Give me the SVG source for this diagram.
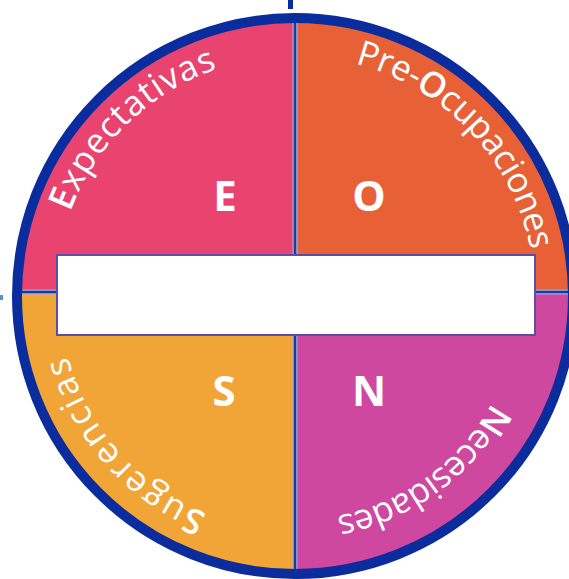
<svg xmlns="http://www.w3.org/2000/svg" width="569" height="579" viewBox="0 0 569 579">
<style>
.arc{font-family:"Open Sans","DejaVu Sans",sans-serif;font-size:35px;fill:#fff}
.b{font-weight:600}
.big{font-family:"Open Sans","DejaVu Sans",sans-serif;font-size:42px;font-weight:bold;fill:#fff;text-anchor:middle}
</style>
<defs>
<clipPath id="cc"><circle cx="295" cy="296" r="280"/></clipPath>
<path id="pE" d="M70.2,212 A240,240 0 0 1 253.3,59.6"/>
<path id="pO" d="M355.1,63.7 A240,240 0 0 1 534.1,275.1"/>
<path id="pS" d="M207,513.9 A235,235 0 0 1 60.9,316.5"/>
<path id="pN" d="M491.9,402.9 A224,224 0 0 1 295,520"/>
</defs>
<rect x="288" y="0" width="5" height="9" fill="#0B2C9C"/>
<rect x="0" y="295" width="3" height="5" fill="#5B8FD0"/>
<g clip-path="url(#cc)">
<g id="quadE"><rect x="0" y="0" width="295" height="292" fill="#E8446F"/></g>
<g id="quadO"><rect x="295" y="0" width="300" height="292" fill="#E86035"/></g>
<g id="quadS"><rect x="0" y="292" width="295" height="300" fill="#F2A537"/></g>
<g id="quadN"><rect x="295" y="292" width="300" height="300" fill="#CE48A0"/></g>
<g id="dividers">
<line x1="295" y1="0" x2="295" y2="579" stroke="#9FB0DC" stroke-width="5"/>
<line x1="295" y1="0" x2="295" y2="579" stroke="#1E3A9E" stroke-width="2.5"/>
<line x1="0" y1="292" x2="600" y2="292" stroke="#9FB0DC" stroke-width="5"/>
<line x1="0" y1="292" x2="600" y2="292" stroke="#1E3A9E" stroke-width="2.5"/>
</g>
</g>
<circle cx="295" cy="296" r="278" fill="none" stroke="#0B2C9C" stroke-width="10"/>
<g id="labelE"><text class="arc"><textPath href="#pE" textLength="212" lengthAdjust="spacing"><tspan class="b">E</tspan>xpectativas</textPath></text><text class="big" x="225" y="211">E</text></g>
<g id="labelO"><text class="arc"><textPath href="#pO" textLength="270" lengthAdjust="spacing">Pre-<tspan class="b">O</tspan>cupaciones</textPath></text><text class="big" x="369" y="211">O</text></g>
<g id="labelS"><text class="arc"><textPath href="#pS" textLength="218" lengthAdjust="spacing"><tspan class="b">S</tspan>ugerencias</textPath></text><text class="big" x="224" y="406">S</text></g>
<g id="labelN"><text class="arc"><textPath href="#pN" textLength="199" lengthAdjust="spacing"><tspan class="b">N</tspan>ecesidades</textPath></text><text class="big" x="369" y="406">N</text></g>
<g id="centerBox"><rect x="57" y="255" width="478" height="80" fill="#fff" stroke="#5A4FA8" stroke-width="2"/></g>
</svg>
